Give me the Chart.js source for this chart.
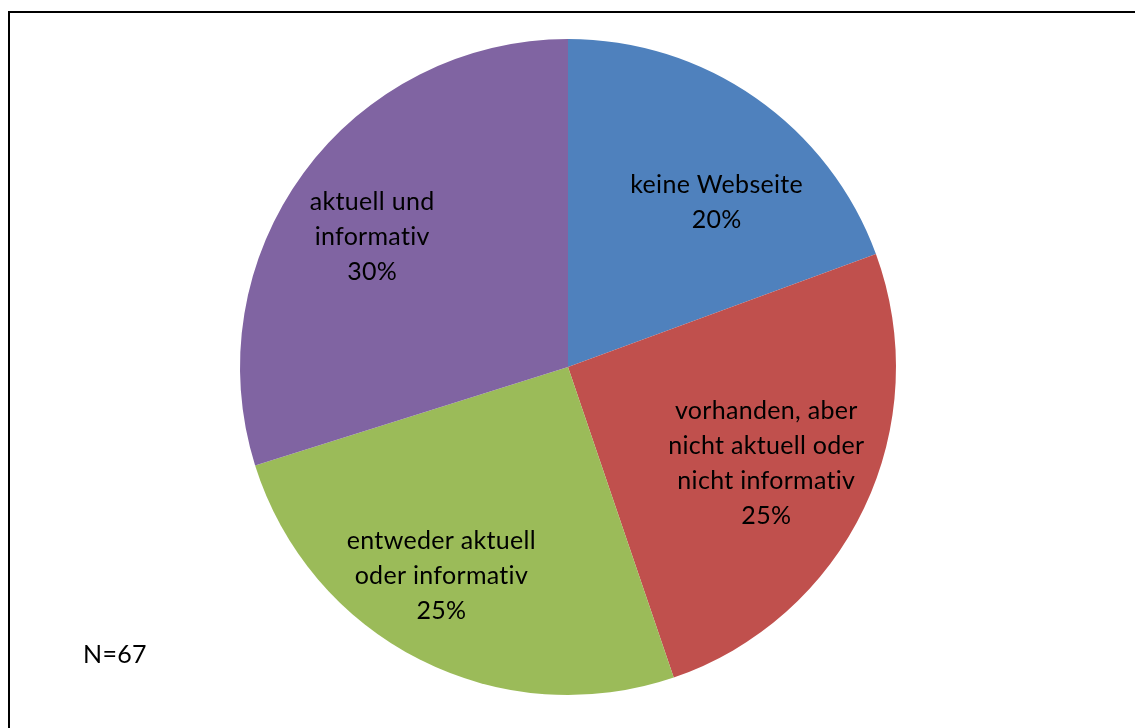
<!DOCTYPE html>
<html>
<head>
<meta charset="utf-8">
<script src="https://cdn.jsdelivr.net/npm/chart.js@4/dist/chart.umd.min.js"></script>
<style>
  html, body { margin: 0; padding: 0; background: #fff; overflow: hidden; }
  #wrap { position: relative; width: 1135px; height: 728px; }
  #frame { position: absolute; left: 8px; top: 11px; width: 1200px; height: 800px;
           border-left: 2px solid #000; border-top: 2px solid #000; box-sizing: border-box; }
  canvas { position: absolute; left: 0; top: 0; }
</style>
</head>
<body>
<div id="wrap">
  <div id="frame"></div>
  <canvas id="c" width="1135" height="728"></canvas>
</div>
<script>
const categories = [
  "keine Webseite",
  "vorhanden, aber nicht aktuell oder nicht informativ",
  "entweder aktuell oder informativ",
  "aktuell und informativ"
];
const labelLines = [
  ["keine Webseite"],
  ["vorhanden, aber", "nicht aktuell oder", "nicht informativ"],
  ["entweder aktuell", "oder informativ"],
  ["aktuell und", "informativ"]
];
const counts = [13, 17, 17, 20];
const percentLabels = ["20%", "25%", "25%", "30%"];
const colors = ["#4F81BD", "#C0504D", "#9BBB59", "#8064A2"];
const sampleNote = "N=67";

const FONT = "Lato, 'Open Sans', sans-serif";
const FSIZE = 25;
const LINE_H = 35;
const labelRadiusFrac = [0.68, 0.67, 0.74, 0.72];
const labelAngleShift = [0.12, 0.0, 0.08, -0.04];

const labelPlugin = {
  id: 'sliceLabels',
  afterDatasetsDraw(chart) {
    const ctx = chart.ctx;
    const meta = chart.getDatasetMeta(0);
    ctx.save();
    ctx.fillStyle = '#000';
    ctx.font = FSIZE + 'px ' + FONT;
    try { ctx.letterSpacing = '0.3px'; } catch (e) {}
    ctx.textAlign = 'center';
    ctx.textBaseline = 'middle';
    meta.data.forEach((arc, i) => {
      const p = arc.getProps(['x', 'y', 'startAngle', 'endAngle', 'outerRadius'], true);
      const mid = (p.startAngle + p.endAngle) / 2 + labelAngleShift[i];
      const r = p.outerRadius * labelRadiusFrac[i];
      const cx = p.x + Math.cos(mid) * r;
      const cy = p.y + Math.sin(mid) * r + 2;
      const lines = labelLines[i].concat([percentLabels[i]]);
      const y0 = cy - (lines.length - 1) * LINE_H / 2;
      lines.forEach((t, k) => ctx.fillText(t, cx, y0 + k * LINE_H));
    });
    ctx.textAlign = 'left';
    ctx.fillText(sampleNote, 83, 655);
    ctx.restore();
  }
};

new Chart(document.getElementById('c'), {
  type: 'pie',
  data: {
    labels: categories,
    datasets: [{
      data: counts,
      backgroundColor: colors,
      borderWidth: 0
    }]
  },
  options: {
    responsive: false,
    animation: false,
    layout: { padding: { left: 240, right: 239, top: 39, bottom: 33 } },
    plugins: { legend: { display: false }, tooltip: { enabled: false } }
  },
  plugins: [labelPlugin]
});
</script>
</body>
</html>
